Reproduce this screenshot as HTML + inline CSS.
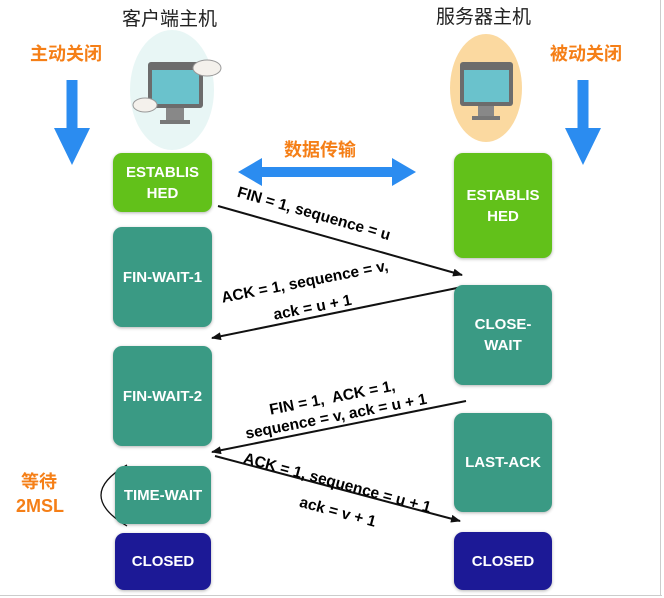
<!DOCTYPE html>
<html><head><meta charset="utf-8"><style>
body{margin:0;width:664px;height:598px;background:#fff;position:relative;overflow:hidden;font-family:"Liberation Sans","Noto Sans CJK SC",sans-serif}
.b{position:absolute;border-radius:9px;color:#fff;font-weight:bold;font-size:15px;display:flex;align-items:center;justify-content:center;text-align:center;line-height:21px;box-shadow:0 1px 3px rgba(0,0,0,.3)}
.g{background:#62c11a}.t{background:#3a9a84}.n{background:#1c1996}
.l{position:absolute;font-weight:bold;font-size:15.5px;white-space:nowrap;transform-origin:left top;line-height:18px}
.o{position:absolute;color:#f57f17;font-weight:bold;font-size:18px}
.h{position:absolute;font-size:19px;color:#222}
</style></head><body>
<div style="position:absolute;right:3px;top:0;width:1px;height:596px;background:#ccc"></div>
<div style="position:absolute;left:0;top:595px;width:662px;height:1px;background:#ccc"></div>
<div class="h" style="left:122px;top:4px">客户端主机</div>
<div class="h" style="left:436px;top:2px">服务器主机</div>
<div class="o" style="left:30px;top:40px">主动关闭</div>
<div class="o" style="left:550px;top:40px">被动关闭</div>
<div class="o" style="left:284px;top:136px">数据传输</div>
<div class="o" style="left:16px;top:470px;line-height:24px">&nbsp;等待<br>2MSL</div>
<svg width="664" height="598" style="position:absolute;left:0;top:0">
<defs><marker id="a" markerWidth="10" markerHeight="8" refX="9" refY="4" orient="auto" markerUnits="userSpaceOnUse"><path d="M0,0L10,4L0,8z" fill="#111"/></marker></defs>
<ellipse cx="172" cy="90" rx="42" ry="60" fill="#d9f0ee" opacity=".6"/>
<rect x="148" y="62" width="55" height="46" rx="3" fill="#6c6c6c"/><rect x="152" y="70" width="47" height="34" fill="#6ac2cc"/>
<rect x="166" y="108" width="18" height="12" fill="#888"/><rect x="160" y="120" width="30" height="4" fill="#777"/>
<ellipse cx="207" cy="68" rx="14" ry="8" fill="#f4f1ec" stroke="#999"/><ellipse cx="145" cy="105" rx="12" ry="7" fill="#f4f1ec" stroke="#999"/>
<ellipse cx="486" cy="88" rx="36" ry="54" fill="#fbd9a0"/>
<rect x="460" y="62" width="53" height="44" rx="3" fill="#6c6c6c"/><rect x="464" y="70" width="45" height="32" fill="#6ac2cc"/>
<rect x="478" y="106" width="16" height="10" fill="#888"/><rect x="472" y="116" width="28" height="4" fill="#777"/>
<path d="M72 80V130" stroke="#2b8cf0" stroke-width="11"/><path d="M54 128L72 165L90 128z" fill="#2b8cf0"/>
<path d="M583 80V130" stroke="#2b8cf0" stroke-width="11"/><path d="M565 128L583 165L601 128z" fill="#2b8cf0"/>
<path d="M260 172H396" stroke="#2b8cf0" stroke-width="10"/><path d="M238 172L262 158V186z M416 172L392 158V186z" fill="#2b8cf0"/>
<g stroke="#111" stroke-width="2" marker-end="url(#a)">
<line x1="218" y1="206" x2="462" y2="275"/>
<line x1="462" y1="287" x2="212" y2="338"/>
<line x1="466" y1="401" x2="212" y2="452"/>
<line x1="215" y1="456" x2="460" y2="521"/>
</g>
<path d="M127 465Q75 495 127 526" fill="none" stroke="#111" stroke-width="1.3"/>
</svg>
<div class="b g" style="left:113px;top:153px;width:99px;height:59px">ESTABLIS<br>HED</div>
<div class="b t" style="left:113px;top:227px;width:99px;height:100px">FIN-WAIT-1</div>
<div class="b t" style="left:113px;top:346px;width:99px;height:100px">FIN-WAIT-2</div>
<div class="b t" style="left:115px;top:466px;width:96px;height:58px">TIME-WAIT</div>
<div class="b n" style="left:115px;top:533px;width:96px;height:57px">CLOSED</div>
<div class="b g" style="left:454px;top:153px;width:98px;height:105px">ESTABLIS<br>HED</div>
<div class="b t" style="left:454px;top:285px;width:98px;height:100px">CLOSE-<br>WAIT</div>
<div class="b t" style="left:454px;top:413px;width:98px;height:99px">LAST-ACK</div>
<div class="b n" style="left:454px;top:532px;width:98px;height:58px">CLOSED</div>
<div class="l" style="left:240px;top:184px;transform:rotate(16deg)">FIN = 1, sequence = u</div>
<div class="l" style="left:220px;top:290px;transform:rotate(-11deg)">ACK = 1, sequence = v,</div>
<div class="l" style="left:272px;top:307px;transform:rotate(-11deg)">ack = u + 1</div>
<div class="l" style="left:268px;top:402px;transform:rotate(-11deg)">FIN = 1,&nbsp; ACK = 1,</div>
<div class="l" style="left:244px;top:426px;transform:rotate(-11deg)">sequence = v, ack = u + 1</div>
<div class="l" style="left:246px;top:450px;transform:rotate(15deg)">ACK = 1, sequence = u + 1</div>
<div class="l" style="left:302px;top:494px;transform:rotate(15deg)">ack = v + 1</div>
</body></html>
